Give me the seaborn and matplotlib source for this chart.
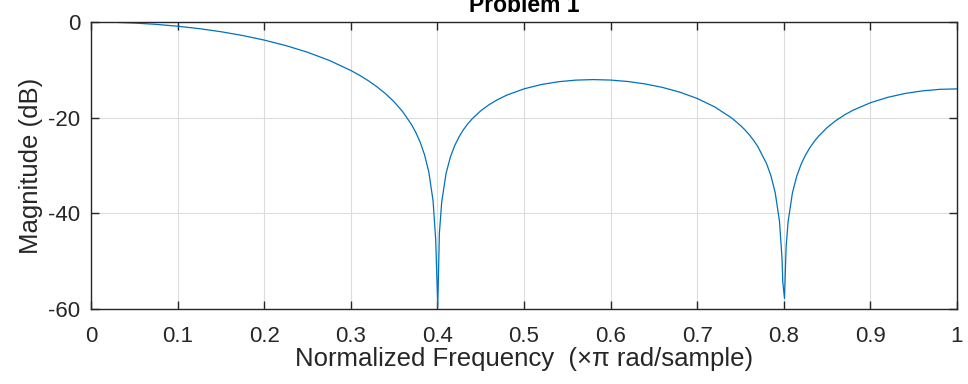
import matplotlib
matplotlib.use("Agg")
import matplotlib.pyplot as plt
import seaborn as sns
import pandas as pd

# Normalized frequency (x pi rad/sample) and magnitude (dB)
freq = [0, 0.025, 0.05, 0.075, 0.1, 0.125, 0.15, 0.175, 0.2, 0.225, 0.25, 0.275,
        0.3, 0.31, 0.32, 0.33, 0.34, 0.35, 0.36, 0.37, 0.375, 0.38, 0.385, 0.39,
        0.395, 0.398, 0.3984, 0.4004, 0.4023, 0.405, 0.41, 0.415, 0.42, 0.425,
        0.43, 0.435, 0.44, 0.45, 0.46, 0.47, 0.48, 0.5, 0.52, 0.54, 0.56, 0.58,
        0.6, 0.62, 0.64, 0.66, 0.68, 0.7, 0.72, 0.74, 0.75, 0.755, 0.76, 0.765,
        0.77, 0.78, 0.785, 0.79, 0.795, 0.798, 0.7988, 0.8008, 0.8027, 0.805,
        0.81, 0.815, 0.82, 0.825, 0.83, 0.835, 0.84, 0.85, 0.86, 0.87, 0.88,
        0.9, 0.92, 0.94, 0.96, 0.98, 1.0]
mag_db = [0, -0.05, -0.22, -0.49, -0.88, -1.39, -2.03, -2.82, -3.78, -4.93, -6.32, -8.02,
          -10.13, -11.13, -12.25, -13.52, -14.97, -16.68, -18.76, -21.41, -23.07, -25.09, -27.67, -31.28,
          -37.39, -45.4, -47.6, -59.6, -44.1, -37.6, -31.66, -28.23, -25.84, -24.01,
          -22.54, -21.31, -20.27, -18.57, -17.25, -16.18, -15.30, -13.98, -13.07, -12.48, -12.15, -12.04,
          -12.14, -12.44, -12.95, -13.68, -14.67, -15.99, -17.73, -20.09, -21.64, -22.53, -23.55, -24.70,
          -26.04, -29.56, -32.07, -35.61, -41.64, -49.6, -54.3, -57.8, -46.9, -41.69,
          -35.69, -32.20, -29.74, -27.84, -26.30, -25.01, -23.90, -22.08, -20.63, -19.44, -18.44,
          -16.88, -15.75, -14.94, -14.40, -14.08, -13.98]

xticks = [0, 0.1, 0.2, 0.3, 0.4, 0.5, 0.6, 0.7, 0.8, 0.9, 1.0]
xticklabels = ["0", "0.1", "0.2", "0.3", "0.4", "0.5", "0.6", "0.7", "0.8", "0.9", "1"]
yticks = [-60, -40, -20, 0]
yticklabels = ["-60", "-40", "-20", "0"]

title = "Problem 1"
xlabel = "Normalized Frequency  (\u00d7\u03c0 rad/sample)"
ylabel = "Magnitude (dB)"

sns.set_theme(style="white")
plt.rcParams['font.family'] = ['Liberation Sans', 'DejaVu Sans']

df = pd.DataFrame({"freq": freq, "mag": mag_db})

fig = plt.figure(figsize=(9.68, 3.84), dpi=100)
ax = fig.add_axes([91/968, 1 - 309/384, (957 - 91)/968, (309 - 22)/384])

sns.lineplot(data=df, x="freq", y="mag", ax=ax, color="#0072BD", linewidth=0.9, sort=False)

ax.set_xlim(0, 1)
ax.set_ylim(-60, 0)
ax.set_xticks(xticks)
ax.set_xticklabels(xticklabels)
ax.set_yticks(yticks)
ax.set_yticklabels(yticklabels)

ax.grid(True, color="#dcdcdc", linewidth=0.8)
ax.set_axisbelow(True)
for s in ax.spines.values():
    s.set_visible(True)
    s.set_color("#262626")
    s.set_linewidth(1.0)

ax.tick_params(axis="both", which="major", direction="in", length=6, width=1.0,
               colors="#262626", labelsize=16, top=True, right=True,
               bottom=True, left=True)
ax.tick_params(axis="x", pad=12)
ax.tick_params(axis="y", pad=7.5)

ax.set_xlabel(xlabel, fontsize=18.5, color="#262626", labelpad=0)
ax.set_ylabel(ylabel, fontsize=18.5, color="#262626", labelpad=4)
ax.set_title(title, fontsize=16.5, fontweight="bold", color="#000000", pad=7)

fig.savefig("out.png", dpi=100)
